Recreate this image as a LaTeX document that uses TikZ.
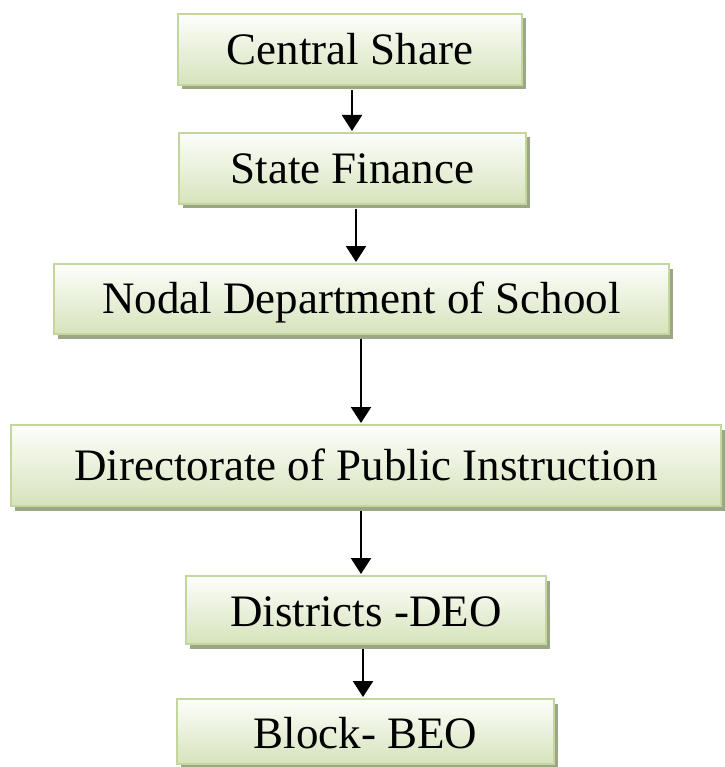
\documentclass[tikz,border=0pt]{standalone}
\usepackage{fontspec}
\setmainfont{Liberation Serif}
\usetikzlibrary{arrows.meta,shadows}
\definecolor{boxborder}{HTML}{C3D69B}
\definecolor{boxtop}{HTML}{FDFEFB}
\definecolor{boxbottom}{HTML}{D6E3BC}
\definecolor{boxshadow}{HTML}{9CA787}
\begin{document}
\begin{tikzpicture}[x=1pt,y=-1pt,
  flowbox/.style={draw=boxborder, line width=2pt, top color=boxtop, bottom color=boxbottom,
    drop shadow={shadow xshift=4pt, shadow yshift=-4.5pt, fill=boxshadow, opacity=1},
    inner sep=0pt, text height=29.8pt, text depth=0pt,
    font=\fontsize{45}{54}\selectfont},
  flowarrow/.style={line width=2.3pt, -{Triangle[width=20pt,length=16pt]}}]
\useasboundingbox (0,0) rectangle (724,767);
\node[flowbox, minimum width=344pt, minimum height=71pt] (b1) at (350,49.5) {Central Share};
\node[flowbox, minimum width=347pt, minimum height=71pt] (b2) at (352.5,168.5) {State Finance};
\node[flowbox, minimum width=615pt, minimum height=70pt] (b3) at (361.5,299) {Nodal Department of School};
\node[flowbox, minimum width=710pt, minimum height=81pt] (b4) at (366,465.5) {Directorate of Public Instruction};
\node[flowbox, minimum width=360pt, minimum height=68pt] (b5) at (366,610) {\raisebox{-2pt}{Districts -DEO}};
\node[flowbox, minimum width=377pt, minimum height=65pt] (b6) at (365.5,731.5) {\raisebox{-2pt}{Block- BEO}};
\coordinate (x1) at (352,0);
\coordinate (x2) at (356,0);
\coordinate (x3) at (361,0);
\coordinate (x4) at (361,0);
\coordinate (x5) at (363,0);
\draw[flowarrow] ([yshift=-4pt]b1.south -| x1) -- ([yshift=1pt]b2.north -| x1);
\draw[flowarrow] ([yshift=-4pt]b2.south -| x2) -- ([yshift=1pt]b3.north -| x2);
\draw[flowarrow] ([yshift=-4pt]b3.south -| x3) -- ([yshift=1pt]b4.north -| x3);
\draw[flowarrow] ([yshift=-4pt]b4.south -| x4) -- ([yshift=1pt]b5.north -| x4);
\draw[flowarrow] ([yshift=-4pt]b5.south -| x5) -- ([yshift=1pt]b6.north -| x5);
\end{tikzpicture}
\end{document}
